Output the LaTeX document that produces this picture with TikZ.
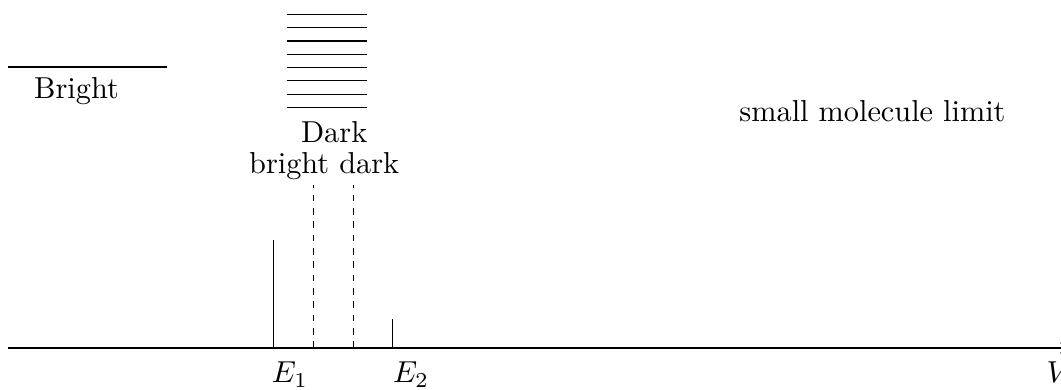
\documentclass[tikz,border=0pt]{standalone}
\usepackage{tikz}
\usetikzlibrary{arrows.meta, positioning}

\begin{document}
\begin{tikzpicture}[
  level/.style={line width=0.4pt},
  peak/.style={line width=0.4pt},
  mixed/.style={line width=0.4pt, dash pattern=on 2.2pt off 2.2pt},
  lbl/.style={anchor=base, inner sep=0pt},
  axis/.style={-Stealth, line width=0.4pt}
]
  \useasboundingbox (0,-0.487) rectangle (12.309,4.037);

  % energy axis
  \coordinate (origin) at (0.093,0);
  \coordinate (axend) at (12.465,0);
  \draw[axis] (origin) -- (axend);

  % bright state and dark manifold
  \draw[level] (0.093,3.260) -- (1.937,3.260);
  \node[lbl] (bright) at (0.887,2.900) {Bright};
  \foreach \k in {0,...,7}
    \draw[level] (3.326,3.871-0.1543*\k) -- (4.254,3.871-0.1543*\k);
  \node[lbl] (dark) at (3.877,2.386) {Dark};
  \node[lbl] (mix) at (3.761,2.019) {bright dark};

  % spectrum
  \coordinate (e1) at (3.171,0);
  \coordinate (d1) at (3.635,0);
  \coordinate (d2) at (4.099,0);
  \coordinate (e2) at (4.556,0);
  \draw[peak] (e1) -- ++(0,1.253);
  \draw[peak] (e2) -- ++(0,0.333);
  \draw[mixed] (d1) -- ++(0,1.891);
  \draw[mixed] (d2) -- ++(0,1.891);

  \node[lbl] (e1lbl) at (3.364,-0.406) {$E_1$};
  \node[lbl] (e2lbl) at (4.768,-0.406) {$E_2$};
  \node[lbl] (vlbl) at (12.285,-0.406) {$V$};

  \node[lbl] (limit) at (10.122,2.625) {small molecule limit};
\end{tikzpicture}
\end{document}
